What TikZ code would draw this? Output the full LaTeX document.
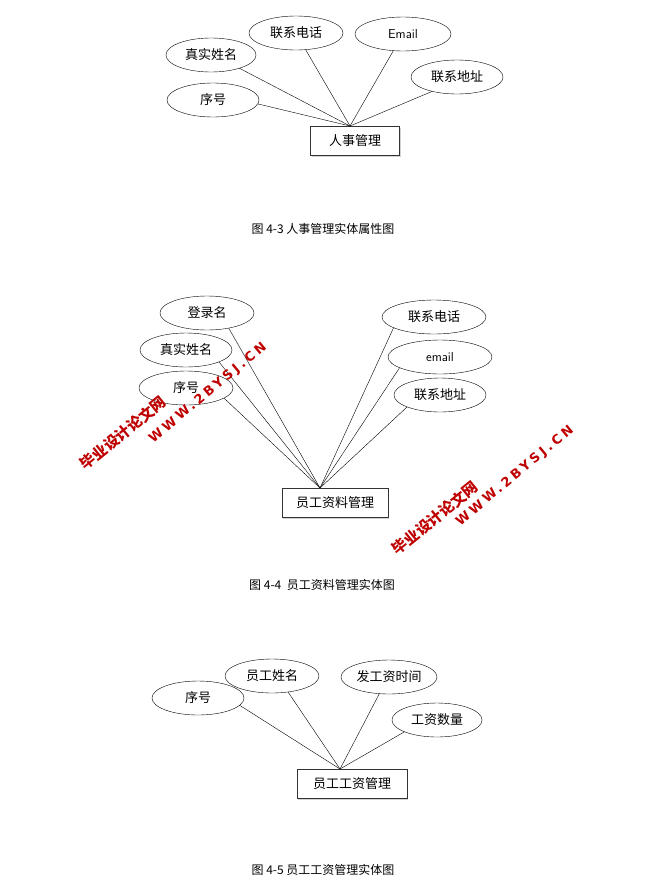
\documentclass[tikz,border=0pt]{standalone}
\usepackage{fontspec}
\usetikzlibrary{shapes.geometric,shadows}
\setmainfont{Liberation Serif}
\newfontfamily\cjk{Noto Sans CJK SC}
\newfontfamily\wmfont[LetterSpace=24]{DejaVu Sans}
\begin{document}
\begin{tikzpicture}[x=1pt,y=-1pt,
  attr/.style={draw,ellipse,minimum width=#1,minimum height=34pt,inner sep=0pt,font=\cjk\fontsize{13}{13}\selectfont},
  ent/.style={draw=black!80,fill=white,line width=0.6pt,drop shadow={shadow xshift=1pt,shadow yshift=-1pt,fill=black!35},minimum width=#1,minimum height=29pt,inner sep=0pt,font=\cjk\fontsize{13}{13}\selectfont},
  captxt/.style={font=\cjk\fontsize{12}{12}\selectfont},
  wm/.style={text=red!75!black,font=\wmfont\bfseries\fontsize{13}{13}\selectfont,rotate=40,inner sep=0pt},
  wmc/.style={text=red!75!black,font=\cjk\bfseries\fontsize{15}{15}\selectfont,rotate=39,inner sep=0pt}]
\useasboundingbox[fill=white] (0,0) rectangle (667,889);
% diagram 1
\node[attr=90] (a1) at (211,55) {真实姓名};
\node[attr=94] (a2) at (296,33) {联系电话};
\node[attr=96,font=\sffamily\fontsize{13}{13}\selectfont] (a3) at (403,34) {Email};
\node[attr=92] (a4) at (457,77) {联系地址};
\node[attr=92] (a5) at (213,100) {序号};
\node[ent=89] (e1) at (355,141) {人事管理};
\coordinate (c1) at (350,126);
\draw (a1.-25) -- (c1); \draw (a2.-60) -- (c1); \draw (a3.-120) -- (c1);
\draw (a4.-150) -- (c1); \draw (a5.-5) -- (c1);
\node[captxt] (t1) at (323,229) {图 4-3 人事管理实体属性图};
% diagram 2
\node[attr=94] (b1) at (207,313) {登录名};
\node[attr=92] (b2) at (186,350) {真实姓名};
\node[attr=94] (b3) at (186,388) {序号};
\node[attr=104] (b4) at (434,317) {联系电话};
\node[attr=104,font=\sffamily\fontsize{13}{13}\selectfont] (b5) at (440,357) {email};
\node[attr=92] (b6) at (440,395) {联系地址};
\node[ent=106] (e2) at (335,503) {员工资料管理};
\coordinate (c2) at (320,488);
\draw (b1.-35) -- (c2); \draw (b2.-20) -- (c2); \draw (b3.-15) -- (c2);
\draw (b4.-165) -- (c2); \draw (b5.-165) -- (c2); \draw (b6.-160) -- (c2);
\node[captxt] (t2) at (322,585) {图 4-4 \ 员工资料管理实体图};
\node[wmc] (w1) at (123,433) {毕业设计论文网};
\node[wm] (w2) at (208,393) {WWW.2BYSJ.CN};
\node[wmc] (w3) at (435,518) {毕业设计论文网};
\node[wm] (w4) at (515,476) {WWW.2BYSJ.CN};
% diagram 3
\node[attr=92] (d1) at (198,698) {序号};
\node[attr=94] (d2) at (272,676) {员工姓名};
\node[attr=96] (d3) at (389,677) {发工资时间};
\node[attr=90] (d4) at (437,720) {工资数量};
\node[ent=110] (e3) at (352,784) {员工工资管理};
\coordinate (c3) at (340,769);
\draw (d1.-10) -- (c3); \draw (d2.-45) -- (c3); \draw (d3.-120) -- (c3); \draw (d4.-160) -- (c3);
\node[captxt] (t3) at (323,870) {图 4-5 员工工资管理实体图};
\end{tikzpicture}
\end{document}
